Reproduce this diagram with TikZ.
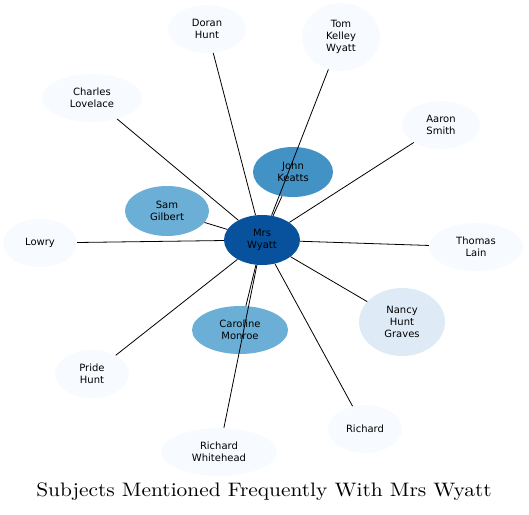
\documentclass[tikz,border=0pt]{standalone}
\usepackage{fontspec}
\newfontfamily\labelfont{DejaVu Sans}
\usepackage{tikz}
\usetikzlibrary{shapes.geometric}
\definecolor{wy-dark}{HTML}{08519C}
\definecolor{wy-mid}{HTML}{4292C6}
\definecolor{wy-light}{HTML}{6BAED6}
\definecolor{wy-pale}{HTML}{DEEBF7}
\definecolor{wy-faint}{HTML}{F7FBFF}

\begin{document}
\begin{tikzpicture}[x=1pt, y=-1pt,
    person/.style={ellipse, draw=none, inner sep=0pt, align=center,
        font=\labelfont\fontsize{10}{11.7}\selectfont},
    link/.style={black, line width=0.8pt}]
    \useasboundingbox (0,0) rectangle (529,514);

    % Centre
    \node[person, fill=wy-dark, minimum width=76, minimum height=50] (wyatt) at (262,240) {Mrs\\Wyatt};

    % Close subjects
    \node[person, fill=wy-mid, minimum width=80, minimum height=50] (keatts) at (293,172) {John\\Keatts};
    \node[person, fill=wy-light, minimum width=84, minimum height=50] (gilbert) at (167,211) {Sam\\Gilbert};
    \node[person, fill=wy-light, minimum width=96, minimum height=48] (monroe) at (240,330) {Caroline\\Monroe};
    \node[person, fill=wy-pale, minimum width=86, minimum height=68] (graves) at (402,322) {Nancy\\Hunt\\Graves};

    % Outer subjects
    \node[person, fill=wy-faint, minimum width=78, minimum height=48] (doran) at (207,29) {Doran\\Hunt};
    \node[person, fill=wy-faint, minimum width=78, minimum height=68] (tom) at (341,37) {Tom\\Kelley\\Wyatt};
    \node[person, fill=wy-faint, minimum width=100, minimum height=48] (lovelace) at (92,98) {Charles\\Lovelace};
    \node[person, fill=wy-faint, minimum width=78, minimum height=48] (smith) at (441,125) {Aaron\\Smith};
    \node[person, fill=wy-faint, minimum width=74, minimum height=48] (lowry) at (40,243) {Lowry};
    \node[person, fill=wy-faint, minimum width=94, minimum height=48] (lain) at (476,247) {Thomas\\Lain};
    \node[person, fill=wy-faint, minimum width=74, minimum height=48] (pride) at (92,374) {Pride\\Hunt};
    \node[person, fill=wy-faint, minimum width=116, minimum height=48] (whitehead) at (219,452) {Richard\\Whitehead};
    \node[person, fill=wy-faint, minimum width=74, minimum height=48] (richard) at (365,429) {Richard};

    % Edges
    \draw[link] (wyatt) -- (keatts);
    \draw[link] (wyatt) -- (gilbert);
    \draw[link] (wyatt) -- (monroe);
    \draw[link] (wyatt) -- (graves);
    \draw[link] (wyatt) -- (doran);
    \draw[link] (wyatt) -- (tom);
    \draw[link] (wyatt) -- (lovelace);
    \draw[link] (wyatt) -- (smith);
    \draw[link] (wyatt) -- (lowry);
    \draw[link] (wyatt) -- (lain);
    \draw[link] (wyatt) -- (pride);
    \draw[link] (wyatt) -- (whitehead);
    \draw[link] (wyatt) -- (richard);

    % Title
    \node (title) at (264,492) {\scalebox{2.14}[1.95]{\fontsize{10}{12}\selectfont Subjects Mentioned Frequently With Mrs Wyatt}};
\end{tikzpicture}
\end{document}
